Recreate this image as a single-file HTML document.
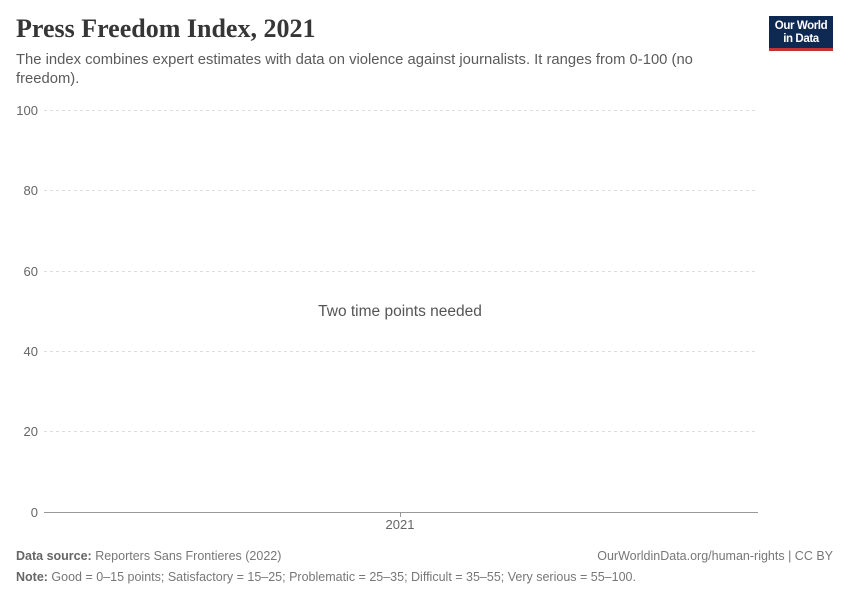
<!DOCTYPE html>
<html><head><meta charset="utf-8"><style>
body{margin:0;width:850px;height:600px;background:#fff;font-family:"Liberation Sans",sans-serif;position:relative;overflow:hidden}
.t{position:absolute;white-space:nowrap}
</style></head><body>
<div class="t" style="left:16px;top:14px;font-family:'Liberation Serif',serif;font-size:26px;font-weight:bold;color:#363636;letter-spacing:0px">Press Freedom Index, 2021</div>
<div class="t" style="left:16px;top:51px;font-size:14.8px;color:#5b5b5b;line-height:19px;white-space:normal;width:730px">The index combines expert estimates with data on violence against journalists. It ranges from 0-100 (no freedom).</div>
<div style="position:absolute;left:769px;top:16px;width:64px;height:35px;background:#0f2a52;border-bottom:3px solid #c4332f;color:#fff;font-size:11.5px;line-height:13px;text-align:center;padding-top:4px;box-sizing:border-box;font-weight:bold;letter-spacing:-0.4px">Our World<br>in Data</div>
<svg width="850" height="600" style="position:absolute;left:0;top:0">
<g stroke="#ddd" stroke-dasharray="3,3" stroke-width="1">
<line x1="44" x2="758" y1="110.5" y2="110.5"/><line x1="44" x2="758" y1="190.5" y2="190.5"/><line x1="44" x2="758" y1="271.5" y2="271.5"/><line x1="44" x2="758" y1="351.5" y2="351.5"/><line x1="44" x2="758" y1="431.5" y2="431.5"/>
</g>
<line x1="44" x2="758" y1="512.5" y2="512.5" stroke="#999"/>
<line x1="400.5" x2="400.5" y1="512" y2="517" stroke="#999"/>
<g font-size="13" fill="#666" text-anchor="end" font-family="Liberation Sans">
<text x="38" y="115">100</text><text x="38" y="195">80</text><text x="38" y="276">60</text><text x="38" y="356">40</text><text x="38" y="436">20</text><text x="38" y="517">0</text>
</g>
<text x="400" y="529" font-size="13" fill="#666" text-anchor="middle">2021</text>
<text x="400" y="316" font-size="15.5" fill="#555" text-anchor="middle">Two time points needed</text>
<text x="16" y="560" font-size="12.5" fill="#777"><tspan font-weight="bold" fill="#666">Data source:</tspan> Reporters Sans Frontieres (2022)</text>
<text x="833" y="560" font-size="12.5" fill="#777" text-anchor="end">OurWorldinData.org/human-rights | CC BY</text>
<text x="16" y="581" font-size="12.5" fill="#777"><tspan font-weight="bold" fill="#666">Note:</tspan> Good = 0–15 points; Satisfactory = 15–25; Problematic = 25–35; Difficult = 35–55; Very serious = 55–100.</text>
</svg>
</body></html>
